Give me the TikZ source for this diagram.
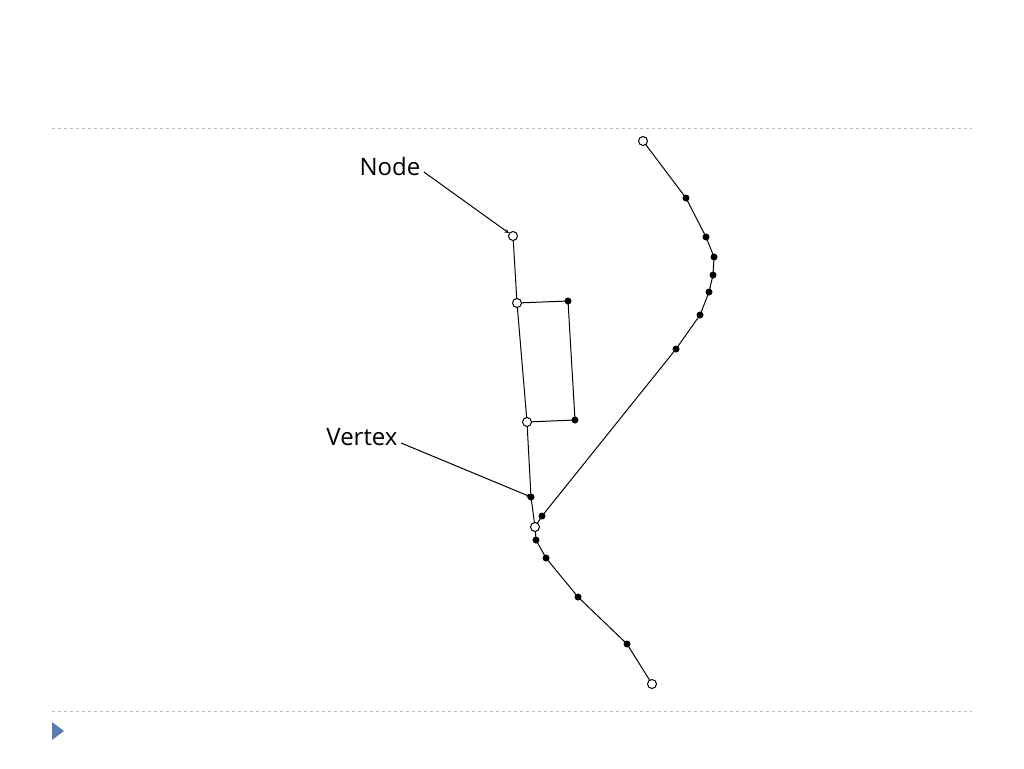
\documentclass[tikz,border=0pt]{standalone}
\usepackage{fontspec}
\setmainfont{Open Sans}
\begin{document}
\begin{tikzpicture}[x=1pt,y=-1pt,
 op/.style={circle,draw,fill=white,line width=1pt,inner sep=0pt,minimum size=9pt},
 fl/.style={circle,fill=black,inner sep=0pt,minimum size=7pt},
 ln/.style={line width=1pt},
 lab/.style={font=\fontsize{24}{24}\selectfont}]
\useasboundingbox (0,0) rectangle (1024,768);
\draw[dashed,color=cyan!30!gray!60] (52,128) -- (972,128);
\draw[dashed,color=cyan!30!gray!60] (52,711) -- (972,711);
\fill[color=cyan!50!blue!60!gray] (52,722) -- (64,731) -- (52,740) -- cycle;
% right chain
\foreach \n/\x/\y in {r1/686/198,r2/706/237,r3/714/257,r4/713/275,r5/709/292,r6/700/315,r7/676/349,r8/542/516,
 l1/531/497,l3/536/540,l4/546/558,l5/578/597,l6/627/644,q1/568/301,q2/575/420}
 \coordinate (\n) at (\x,\y);
\foreach \n/\x/\y in {o1/643/141,a/513/236,b/517/303,c/527/422,m/535/527,e/652/684}
 \coordinate (\n) at (\x,\y);
\draw[ln] (o1)--(r1)--(r2)--(r3)--(r4)--(r5)--(r6)--(r7)--(r8)--(m);
\draw[ln] (a)--(b)--(c)--(l1)--(m)--(l3)--(l4)--(l5)--(l6)--(e);
\draw[ln] (b)--(q1)--(q2)--(c);
\foreach \n in {r1,r2,r3,r4,r5,r6,r7,r8,l1,l3,l4,l5,l6,q1,q2} \node[fl] at (\n) {};
\foreach \n in {o1,a,b,c,m,e} \node[op] (n\n) at (\n) {};
\node[lab] (node) at (390,166) {Node};
\node[lab] (vert) at (362,437) {Vertex};
\draw[ln,-stealth] (node.east)++(0,6) -- (na);
\draw[ln,-stealth] (vert.east)++(0,6) -- (l1);
\end{tikzpicture}
\end{document}
